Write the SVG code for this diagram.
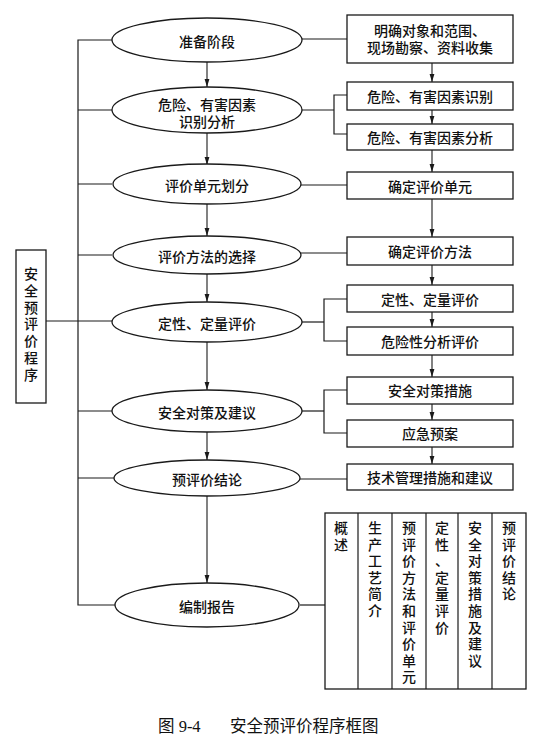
<svg xmlns="http://www.w3.org/2000/svg" width="550" height="743" viewBox="0 0 550 743">
<defs>
<marker id="ah" markerWidth="8" markerHeight="6" refX="8" refY="3" orient="auto" markerUnits="userSpaceOnUse">
<path d="M0,0.6 L8,3 L0,5.4 Z" fill="#1a1a1a"/>
</marker>
<style>
.sh{fill:#fff;stroke:#1a1a1a;stroke-width:1.3}
.ln{fill:none;stroke:#1a1a1a;stroke-width:1.2}
.ar{fill:none;stroke:#1a1a1a;stroke-width:1.1;marker-end:url(#ah)}
.t{font-family:"Liberation Sans","Noto Sans CJK SC","Noto Sans CJK JP",sans-serif;font-size:14px;font-weight:500;fill:#111;text-anchor:middle;dominant-baseline:central}
.v{font-family:"Liberation Sans","Noto Sans CJK SC","Noto Sans CJK JP",sans-serif;font-size:14px;font-weight:500;fill:#111;text-anchor:middle;dominant-baseline:central}
.cap{font-family:"Liberation Serif","Noto Sans CJK SC",serif;font-size:16.5px;fill:#111;dominant-baseline:central}
</style>
</defs>
<rect width="550" height="743" fill="#fff"/>
<g id="connectors">
<polyline class="ln" points="112,40 78,40 78,605 115,605"/>
<line class="ln" x1="78" y1="110" x2="112" y2="110"/>
<line class="ln" x1="78" y1="184" x2="112" y2="184"/>
<line class="ln" x1="78" y1="255" x2="112" y2="255"/>
<line class="ln" x1="46" y1="321" x2="112" y2="321"/>
<line class="ln" x1="78" y1="411" x2="112" y2="411"/>
<line class="ln" x1="78" y1="478" x2="114" y2="478"/>
<line class="ar" x1="207" y1="62" x2="207" y2="87"/>
<line class="ar" x1="207" y1="133" x2="207" y2="165"/>
<line class="ar" x1="207" y1="204" x2="207" y2="236"/>
<line class="ar" x1="207" y1="274" x2="207" y2="302"/>
<line class="ar" x1="207" y1="342" x2="207" y2="390"/>
<line class="ar" x1="207" y1="432" x2="207" y2="460"/>
<line class="ar" x1="207" y1="496" x2="207" y2="583"/>
<line class="ln" x1="302" y1="39" x2="347" y2="39"/>
<line class="ln" x1="301" y1="110" x2="334" y2="110"/>
<polyline class="ln" points="347,95 334,95 334,134 347,134"/>
<line class="ln" x1="300" y1="185" x2="347" y2="185"/>
<line class="ln" x1="300" y1="253" x2="347" y2="253"/>
<line class="ln" x1="302" y1="322" x2="324" y2="322"/>
<polyline class="ln" points="347,299 324,299 324,341 347,341"/>
<line class="ln" x1="302" y1="411" x2="324" y2="411"/>
<polyline class="ln" points="347,390 324,390 324,433 347,433"/>
<line class="ln" x1="299" y1="479" x2="347" y2="479"/>
<line class="ln" x1="300" y1="605" x2="325" y2="605"/>
<line class="ar" x1="432" y1="63" x2="432" y2="82"/>
<line class="ar" x1="432" y1="110" x2="432" y2="124"/>
<line class="ar" x1="432" y1="150" x2="432" y2="172"/>
<line class="ar" x1="432" y1="199" x2="432" y2="237"/>
<line class="ar" x1="432" y1="265" x2="432" y2="285"/>
<line class="ar" x1="432" y1="312" x2="432" y2="327"/>
<line class="ar" x1="432" y1="355" x2="432" y2="377"/>
<line class="ar" x1="432" y1="404" x2="432" y2="420"/>
<line class="ar" x1="432" y1="447" x2="432" y2="464"/>
</g>
<g id="n-main">
<rect class="sh" x="16" y="250" width="30" height="153"/>
<text class="v"><tspan x="31" y="274">安</tspan><tspan x="31" y="291">全</tspan><tspan x="31" y="308">预</tspan><tspan x="31" y="324">评</tspan><tspan x="31" y="341">价</tspan><tspan x="31" y="358">程</tspan><tspan x="31" y="375">序</tspan></text>
</g>
<g id="e1"><ellipse class="sh" cx="207" cy="40" rx="95" ry="22"/><text class="t" x="207" y="42">准备阶段</text></g>
<g id="e2"><ellipse class="sh" cx="207" cy="110" rx="95" ry="23"/><text class="t" x="207" y="105">危险、有害因素</text><text class="t" x="207" y="122">识别分析</text></g>
<g id="e3"><ellipse class="sh" cx="207" cy="184" rx="94" ry="20"/><text class="t" x="207" y="186">评价单元划分</text></g>
<g id="e4"><ellipse class="sh" cx="207" cy="255" rx="94" ry="19"/><text class="t" x="207" y="257">评价方法的选择</text></g>
<g id="e5"><ellipse class="sh" cx="207" cy="322" rx="95" ry="20"/><text class="t" x="207" y="324">定性、定量评价</text></g>
<g id="e6"><ellipse class="sh" cx="207" cy="411" rx="95" ry="21"/><text class="t" x="207" y="413">安全对策及建议</text></g>
<g id="e7"><ellipse class="sh" cx="207" cy="478" rx="93" ry="18"/><text class="t" x="207" y="480">预评价结论</text></g>
<g id="e8"><ellipse class="sh" cx="207" cy="605" rx="92" ry="22"/><text class="t" x="207" y="607">编制报告</text></g>
<g id="b1"><rect class="sh" x="347" y="15" width="166" height="48"/><text class="t" x="430" y="31">明确对象和范围、</text><text class="t" x="430" y="48">现场勘察、资料收集</text></g>
<g id="b2"><rect class="sh" x="347" y="82" width="166" height="28"/><text class="t" x="430" y="97">危险、有害因素识别</text></g>
<g id="b3"><rect class="sh" x="347" y="124" width="166" height="26"/><text class="t" x="430" y="138">危险、有害因素分析</text></g>
<g id="b4"><rect class="sh" x="347" y="172" width="166" height="27"/><text class="t" x="430" y="187">确定评价单元</text></g>
<g id="b5"><rect class="sh" x="347" y="237" width="166" height="28"/><text class="t" x="430" y="252">确定评价方法</text></g>
<g id="b6"><rect class="sh" x="347" y="285" width="166" height="27"/><text class="t" x="430" y="300">定性、定量评价</text></g>
<g id="b7"><rect class="sh" x="347" y="327" width="166" height="28"/><text class="t" x="430" y="342">危险性分析评价</text></g>
<g id="b8"><rect class="sh" x="347" y="377" width="166" height="27"/><text class="t" x="430" y="391">安全对策措施</text></g>
<g id="b9"><rect class="sh" x="347" y="420" width="166" height="27"/><text class="t" x="430" y="434">应急预案</text></g>
<g id="b10"><rect class="sh" x="347" y="464" width="166" height="26"/><text class="t" x="430" y="478">技术管理措施和建议</text></g>
<g id="report-table">
<rect class="sh" x="325" y="513" width="201" height="176"/>
<line class="ln" x1="358" y1="513" x2="358" y2="689"/>
<line class="ln" x1="392" y1="513" x2="392" y2="689"/>
<line class="ln" x1="426" y1="513" x2="426" y2="689"/>
<line class="ln" x1="458" y1="513" x2="458" y2="689"/>
<line class="ln" x1="492" y1="513" x2="492" y2="689"/>
<text class="v"><tspan x="341" y="528">概</tspan><tspan x="341" y="545">述</tspan></text>
<text class="v"><tspan x="375" y="528">生</tspan><tspan x="375" y="545">产</tspan><tspan x="375" y="561">工</tspan><tspan x="375" y="578">艺</tspan><tspan x="375" y="594">简</tspan><tspan x="375" y="611">介</tspan></text>
<text class="v"><tspan x="409" y="528">预</tspan><tspan x="409" y="545">评</tspan><tspan x="409" y="561">价</tspan><tspan x="409" y="578">方</tspan><tspan x="409" y="594">法</tspan><tspan x="409" y="611">和</tspan><tspan x="409" y="628">评</tspan><tspan x="409" y="644">价</tspan><tspan x="409" y="661">单</tspan><tspan x="409" y="677">元</tspan></text>
<text class="v"><tspan x="442" y="528">定</tspan><tspan x="442" y="545">性</tspan><tspan x="442" y="561">、</tspan><tspan x="442" y="578">定</tspan><tspan x="442" y="594">量</tspan><tspan x="442" y="611">评</tspan><tspan x="442" y="628">价</tspan></text>
<text class="v"><tspan x="475" y="528">安</tspan><tspan x="475" y="545">全</tspan><tspan x="475" y="561">对</tspan><tspan x="475" y="578">策</tspan><tspan x="475" y="594">措</tspan><tspan x="475" y="611">施</tspan><tspan x="475" y="628">及</tspan><tspan x="475" y="644">建</tspan><tspan x="475" y="661">议</tspan></text>
<text class="v"><tspan x="509" y="528">预</tspan><tspan x="509" y="545">评</tspan><tspan x="509" y="561">价</tspan><tspan x="509" y="578">结</tspan><tspan x="509" y="594">论</tspan></text>
</g>
<g id="caption">
<text class="cap" y="726"><tspan x="158">图 9-4</tspan><tspan x="230">安全预评价程序框图</tspan></text>
</g>
</svg>
